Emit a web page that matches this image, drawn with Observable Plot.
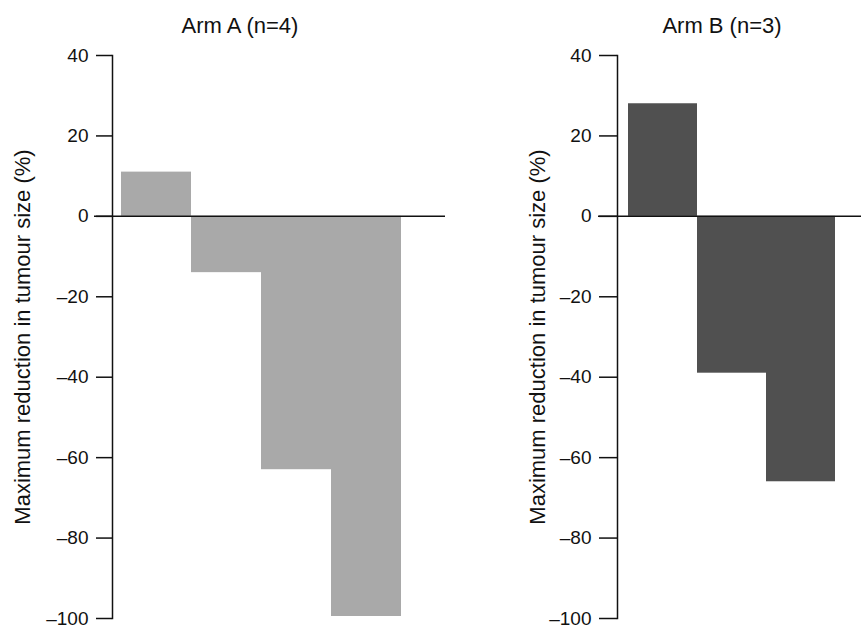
<!DOCTYPE html>
<html>
<head>
<meta charset="utf-8">
<script src="https://cdn.jsdelivr.net/npm/d3@7"></script>
<script src="https://cdn.jsdelivr.net/npm/@observablehq/plot@0.6"></script>
<style>
  html, body { margin: 0; padding: 0; background: #fff; }
  #wrap { position: relative; width: 861px; height: 628px; overflow: hidden; font-family: "Liberation Sans", Arial, sans-serif; }
  .panel { position: absolute; top: 0; }
  .title { position: absolute; top: 13px; font-size: 22px; color: #111; transform: translateX(-50%); white-space: nowrap; }
</style>
</head>
<body>
<div id="wrap"></div>
<script>
// ---- data ----
const armAPatients = [1, 2, 3, 4];
const armAValues = [11, -14, -63, -99.5];
const armBPatients = [1, 2, 3];
const armBValues = [28, -39, -66];
const yTicks = [40, 20, 0, -20, -40, -60, -80, -100];
const titles = ["Arm A (n=4)", "Arm B (n=3)"];
const yLabel = "Maximum reduction in tumour size (%)";

const wrap = document.getElementById("wrap");

function panel({patients, values, fill, left, width, marginLeft, xRange, tickSize, labelDx, zeroInset, titleX, title}) {
  const data = patients.map((p, i) => ({patient: p, value: values[i]}));
  const chart = Plot.plot({
    width, height: 628,
    marginLeft, marginRight: 0, marginTop: 55, marginBottom: 10,
    style: {fontFamily: '"Liberation Sans", Arial, sans-serif', color: "#111", background: "transparent"},
    x: {type: "band", domain: patients, range: xRange, padding: 0, axis: null},
    y: {domain: [-100, 40], axis: null},
    marks: [
      Plot.barY(data, {x: "patient", y: "value", fill}),
      Plot.ruleY([0], {stroke: "#111", strokeWidth: 1.5, insetLeft: zeroInset}),
      Plot.frame({anchor: "left", stroke: "#111", strokeWidth: 1.5}),
      Plot.axisY({ticks: yTicks, tickSize, tickPadding: 8, fontSize: 19, strokeWidth: 1.5, label: null,
        tickFormat: d => (d < 0 ? "\u2013" + Math.abs(d) : String(d))}),
      Plot.text([yLabel], {frameAnchor: "left", textAnchor: "middle", rotate: -90, dx: labelDx, fontSize: 22, fill: "#111"})
    ]
  });
  chart.classList.add("panel");
  chart.style.left = left + "px";
  wrap.appendChild(chart);
  const t = document.createElement("div");
  t.className = "title";
  t.style.left = titleX + "px";
  t.textContent = title;
  wrap.appendChild(t);
}

panel({patients: armAPatients, values: armAValues, fill: "#a9a9a9", left: 0, width: 445,
  marginLeft: 112, xRange: [120, 401], tickSize: 16, labelDx: -90, zeroInset: -18, titleX: 240, title: titles[0]});
panel({patients: armBPatients, values: armBValues, fill: "#505050", left: 450, width: 411,
  marginLeft: 167, xRange: [177, 385], tickSize: 18, labelDx: -80, zeroInset: -19, titleX: 722, title: titles[1]});
</script>
</body>
</html>
